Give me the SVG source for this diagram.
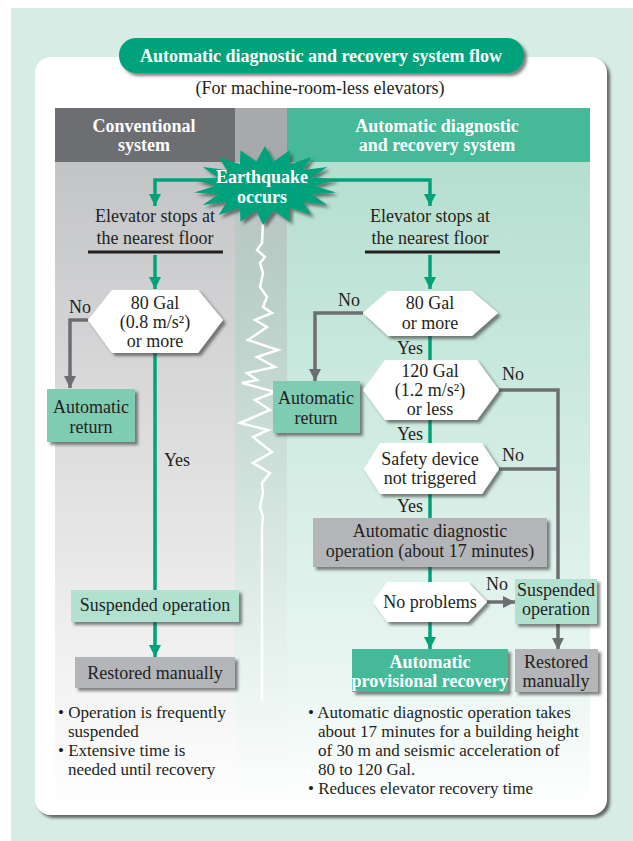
<svg xmlns="http://www.w3.org/2000/svg" width="633" height="841" viewBox="0 0 633 841">
<defs>
<style>
.t{font-family:"Liberation Serif","Times New Roman",serif;fill:#231f20;font-size:18px;text-anchor:middle}
.b{font-weight:bold;fill:#fff}
.bl{font-size:17px;text-anchor:start}
.g{fill:none;stroke:#00a27b;stroke-width:3.5}
.k{fill:none;stroke:#6d6e71;stroke-width:3.5}
.hex{fill:#fff;filter:url(#sh)}
.box{filter:url(#sh)}
</style>
<filter id="sh" x="-20%" y="-20%" width="140%" height="150%">
<feDropShadow dx="3" dy="3" stdDeviation="1.5" flood-color="#333" flood-opacity="0.6"/>
</filter>
<filter id="psh" x="-5%" y="-5%" width="110%" height="110%">
<feDropShadow dx="3" dy="3" stdDeviation="1.5" flood-color="#444" flood-opacity="0.8"/>
</filter>
<marker id="ag" markerUnits="userSpaceOnUse" markerWidth="14" markerHeight="12" refX="12" refY="6" orient="auto">
<path d="M0,0 L12,6 L0,12 Z" fill="#00a27b"/>
</marker>
<marker id="ak" markerUnits="userSpaceOnUse" markerWidth="14" markerHeight="12" refX="12" refY="6" orient="auto">
<path d="M0,0 L12,6 L0,12 Z" fill="#6d6e71"/>
</marker>
<linearGradient id="gl" x1="0" y1="162" x2="0" y2="810" gradientUnits="userSpaceOnUse">
<stop offset="0" stop-color="#c3c4c6"/>
<stop offset="0.8" stop-color="#f3f3f3"/>
<stop offset="1" stop-color="#ffffff"/>
</linearGradient>
<linearGradient id="gm" x1="0" y1="162" x2="0" y2="810" gradientUnits="userSpaceOnUse">
<stop offset="0" stop-color="#bcc2c1"/>
<stop offset="0.2" stop-color="#b9cfc8"/>
<stop offset="0.8" stop-color="#e9f4f0"/>
<stop offset="1" stop-color="#ffffff"/>
</linearGradient>
<linearGradient id="gr" x1="0" y1="162" x2="0" y2="810" gradientUnits="userSpaceOnUse">
<stop offset="0" stop-color="#b4dfd0"/>
<stop offset="0.8" stop-color="#eaf6f2"/>
<stop offset="1" stop-color="#ffffff"/>
</linearGradient>
</defs>

<g id="background">
<rect x="0" y="0" width="633" height="841" fill="#ffffff"/>
<rect x="11" y="8" width="622" height="833" fill="#d6ece4"/>
<rect x="35" y="57" width="572" height="758" rx="16" fill="#ffffff" filter="url(#psh)"/>
<rect x="55" y="162" width="180" height="648" fill="url(#gl)"/>
<rect x="235" y="162" width="52" height="648" fill="url(#gm)"/>
<rect x="287" y="162" width="303" height="648" fill="url(#gr)"/>
</g>

<g id="title">
<rect x="119" y="38" width="405" height="35" rx="17" fill="#00a27b" filter="url(#sh)"/>
<text class="t b" x="321" y="62">Automatic diagnostic and recovery system flow</text>
<text class="t" x="320" y="94" font-size="17">(For machine-room-less elevators)</text>
</g>

<g id="headers">
<rect x="55" y="108" width="180" height="54" fill="#6d6e71"/>
<rect x="235" y="108" width="52" height="54" fill="#a7a9ab"/>
<rect x="287" y="108" width="303" height="54" fill="#45b998"/>
<text class="t b" x="144" y="132">Conventional</text>
<text class="t b" x="144" y="151">system</text>
<text class="t b" x="437" y="132">Automatic diagnostic</text>
<text class="t b" x="437" y="151">and recovery system</text>
</g>

<g id="zigzag">
<polyline fill="none" stroke="#ffffff" stroke-width="2.5" stroke-linejoin="miter" points="263,222 262,243 257,250 265,257 260,263 263,273 260,287 267,297 263,307 272,313 255,320 267,327 248,340 278,350 257,357 275,367 247,373 257,380 242,383 275,392 255,400 270,410 240,423 268,430 253,437 272,452 253,463 270,473 262,483 263,493 260,507 263,517 262,527 262,540 262,700"/>
</g>

<g id="connectors">
<polyline class="g" points="215,180 155,180 155,206" marker-end="url(#ag)"/>
<polyline class="g" points="315,180 430,180 430,206" marker-end="url(#ag)"/>
<line class="g" x1="155" y1="255" x2="155" y2="289" marker-end="url(#ag)"/>
<line class="g" x1="430" y1="255" x2="430" y2="289" marker-end="url(#ag)"/>
<polyline class="k" points="88,320 70,320 70,388" marker-end="url(#ak)"/>
<line class="g" x1="155" y1="352" x2="155" y2="590"/>
<line class="g" x1="155" y1="622" x2="155" y2="657" marker-end="url(#ag)"/>
<polyline class="k" points="363,313 315,313 315,381" marker-end="url(#ak)"/>
<line class="g" x1="430" y1="335" x2="430" y2="361"/>
<line class="g" x1="430" y1="419" x2="430" y2="444"/>
<line class="g" x1="430" y1="493" x2="430" y2="518"/>
<line class="g" x1="430" y1="566" x2="430" y2="583"/>
<line class="g" x1="430" y1="621" x2="430" y2="649" marker-end="url(#ag)"/>
<polyline class="k" points="499,390 558,390 558,579"/>
<line class="k" x1="499" y1="469" x2="558" y2="469"/>
<line class="k" x1="487" y1="602" x2="515" y2="602" marker-end="url(#ak)"/>
<line class="k" x1="558" y1="624" x2="558" y2="650" marker-end="url(#ak)"/>
</g>

<g id="earthquake">
<polygon fill="#00a27b" filter="url(#sh)" points="315,186 335.9,179.4 312,177.4 327.4,167 303.3,169.9 311.3,156.9 290,164.3 289.6,150.3 273.7,161.4 265,146 256.3,161.4 240.4,150.3 240,164.3 218.7,156.9 226.7,169.9 202.6,167 218,177.4 194.1,179.4 215,186 194.1,192.6 218,194.6 202.6,205 226.7,202.1 218.7,215.1 240,207.7 240.4,221.7 256.3,210.6 263,225 273.7,210.6 289.6,221.7 290,207.7 311.3,215.1 303.3,202.1 327.4,205 312,194.6 335.9,192.6"/>
<text class="t b" x="262" y="183">Earthquake</text>
<text class="t b" x="262" y="203">occurs</text>
</g>

<g id="stop-left">
<text class="t" x="155" y="222">Elevator stops at</text>
<text class="t" x="155" y="244">the nearest floor</text>
<line x1="88" y1="252" x2="223" y2="252" stroke="#231f20" stroke-width="3"/>
</g>
<g id="stop-right">
<text class="t" x="430" y="222">Elevator stops at</text>
<text class="t" x="430" y="244">the nearest floor</text>
<line x1="365" y1="252" x2="500" y2="252" stroke="#231f20" stroke-width="3"/>
</g>

<g id="gal80-left">
<polygon class="hex" points="88,320 112,290 198,290 223,320 198,353 112,353"/>
<text class="t" x="155" y="309">80 Gal</text>
<text class="t" x="155" y="328" font-size="17">(0.8 m/s²)</text>
<text class="t" x="155" y="347">or more</text>
<text class="t" x="80" y="313">No</text>
</g>

<g id="return-left">
<rect class="box" x="47" y="389" width="88" height="53" fill="#80ccb3"/>
<text class="t" x="91" y="413">Automatic</text>
<text class="t" x="91" y="433">return</text>
</g>
<text class="t" x="177" y="466" id="yes-left">Yes</text>

<g id="suspended-left">
<rect class="box" x="71" y="590" width="168" height="32" fill="#b3e1d0"/>
<text class="t" x="155" y="611">Suspended operation</text>
</g>
<g id="restored-left">
<rect class="box" x="75" y="657" width="160" height="31" fill="#b4b5b8"/>
<text class="t" x="155" y="679">Restored manually</text>
</g>

<g id="gal80-right">
<polygon class="hex" points="363,313 388,291 472,291 498,313 472,336 388,336"/>
<text class="t" x="430" y="309">80 Gal</text>
<text class="t" x="430" y="329">or more</text>
<text class="t" x="349" y="306">No</text>
<text class="t" x="410" y="354">Yes</text>
</g>
<g id="return-right">
<rect class="box" x="273" y="381" width="87" height="52" fill="#80ccb3"/>
<text class="t" x="316" y="404">Automatic</text>
<text class="t" x="316" y="424">return</text>
</g>

<g id="gal120">
<polygon class="hex" points="363,390 385,360 477,360 499,390 477,420 385,420"/>
<text class="t" x="430" y="377">120 Gal</text>
<text class="t" x="430" y="396" font-size="17">(1.2 m/s²)</text>
<text class="t" x="430" y="415">or less</text>
<text class="t" x="513" y="380">No</text>
<text class="t" x="410" y="440">Yes</text>
</g>

<g id="safety">
<polygon class="hex" points="364,469 380,443 482,443 499,469 482,494 380,494"/>
<text class="t" x="430" y="465">Safety device</text>
<text class="t" x="430" y="484">not triggered</text>
<text class="t" x="513" y="461">No</text>
<text class="t" x="410" y="512">Yes</text>
</g>

<g id="diagnostic">
<rect class="box" x="313" y="518" width="234" height="49" fill="#b4b5b8"/>
<text class="t" x="430" y="537">Automatic diagnostic</text>
<text class="t" x="430" y="557">operation (about 17 minutes)</text>
</g>

<g id="noproblems">
<polygon class="hex" points="373,602 387,582 468,582 487,602 468,622 387,622"/>
<text class="t" x="430" y="608">No problems</text>
<text class="t" x="497" y="590">No</text>
</g>

<g id="suspended-right">
<rect class="box" x="515" y="579" width="82" height="45" fill="#b3e1d0"/>
<text class="t" x="556" y="596">Suspended</text>
<text class="t" x="556" y="615">operation</text>
</g>

<g id="provisional">
<rect class="box" x="352" y="649" width="156" height="43" fill="#45b998"/>
<text class="t b" x="430" y="668">Automatic</text>
<text class="t b" x="430" y="687">provisional recovery</text>
</g>

<g id="restored-right">
<rect class="box" x="515" y="649" width="83" height="43" fill="#b4b5b8"/>
<text class="t" x="556" y="668">Restored</text>
<text class="t" x="556" y="687">manually</text>
</g>

<g id="notes-left">
<text class="t bl" x="58" y="718">• Operation is frequently</text>
<text class="t bl" x="68" y="737">suspended</text>
<text class="t bl" x="58" y="756">• Extensive time is</text>
<text class="t bl" x="68" y="775">needed until recovery</text>
</g>
<g id="notes-right">
<text class="t bl" x="308" y="718">• Automatic diagnostic operation takes</text>
<text class="t bl" x="318" y="737">about 17 minutes for a building height</text>
<text class="t bl" x="318" y="756">of 30 m and seismic acceleration of</text>
<text class="t bl" x="318" y="775">80 to 120 Gal.</text>
<text class="t bl" x="308" y="794">• Reduces elevator recovery time</text>
</g>
</svg>
